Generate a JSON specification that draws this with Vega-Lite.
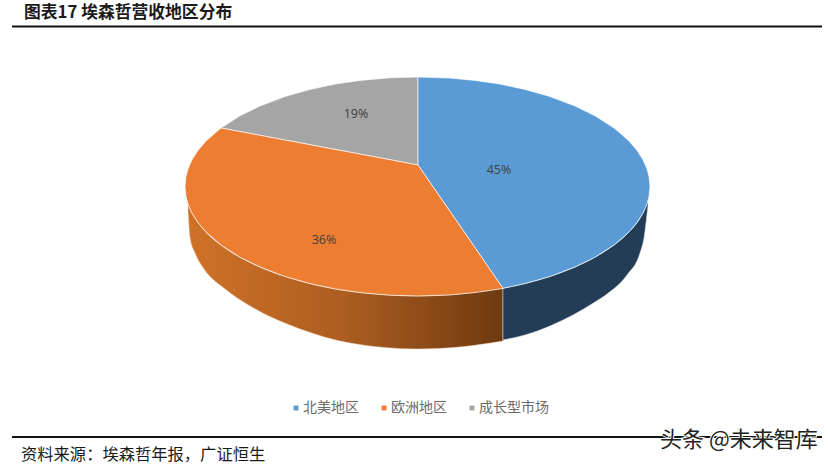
{"$schema":"https://vega.github.io/schema/vega-lite/v6.json","width":828,"height":464,"autosize":"none","padding":0,"background":"white","config":{"view":{"stroke":null}},
"datasets":{
"slices":[
{"region":"成长型市场","x":221,"y":128,"y2":128},{"region":"成长型市场","x":240,"y":115.8,"y2":131.6},{"region":"成长型市场","x":260,"y":106,"y2":135.3},{"region":"成长型市场","x":285,"y":96.5,"y2":140},{"region":"成长型市场","x":310,"y":89.4,"y2":144.7},{"region":"成长型市场","x":335,"y":84.1,"y2":149.4},{"region":"成长型市场","x":360,"y":80.4,"y2":154.1},{"region":"成长型市场","x":390,"y":77.8,"y2":159.7},{"region":"成长型市场","x":418,"y":77,"y2":165},
{"region":"北美地区","x":418,"y":77,"y2":165},{"region":"北美地区","x":450,"y":78.1,"y2":211.4},{"region":"北美地区","x":475,"y":80.4,"y2":247.7},{"region":"北美地区","x":500,"y":84.1,"y2":284},{"region":"北美地区","x":503,"y":84.7,"y2":288.3},{"region":"北美地区","x":525,"y":89.4,"y2":283.6},{"region":"北美地区","x":550,"y":96.5,"y2":276.5},{"region":"北美地区","x":575,"y":106,"y2":267},{"region":"北美地区","x":595,"y":115.8,"y2":257.2},{"region":"北美地区","x":615,"y":128.7,"y2":244.3},{"region":"北美地区","x":629,"y":141,"y2":232},{"region":"北美地区","x":637,"y":150.4,"y2":222.6},{"region":"北美地区","x":643,"y":159.8,"y2":213.2},{"region":"北美地区","x":647,"y":169,"y2":204},{"region":"北美地区","x":649,"y":176.4,"y2":196.6},{"region":"北美地区","x":650,"y":186.5,"y2":186.5},
{"region":"欧洲地区","x":185,"y":186.5,"y2":186.5},{"region":"欧洲地区","x":186,"y":176.4,"y2":196.6},{"region":"欧洲地区","x":188,"y":169,"y2":204},{"region":"欧洲地区","x":192,"y":159.8,"y2":213.2},{"region":"欧洲地区","x":198,"y":150.4,"y2":222.6},{"region":"欧洲地区","x":206,"y":141,"y2":232},{"region":"欧洲地区","x":221,"y":128,"y2":245},{"region":"欧洲地区","x":240,"y":131.6,"y2":257.2},{"region":"欧洲地区","x":260,"y":135.3,"y2":267},{"region":"欧洲地区","x":285,"y":140,"y2":276.5},{"region":"欧洲地区","x":310,"y":144.7,"y2":283.6},{"region":"欧洲地区","x":335,"y":149.4,"y2":288.9},{"region":"欧洲地区","x":360,"y":154.1,"y2":292.6},{"region":"欧洲地区","x":390,"y":159.7,"y2":295.2},{"region":"欧洲地区","x":418,"y":165,"y2":296},{"region":"欧洲地区","x":450,"y":211.4,"y2":294.9},{"region":"欧洲地区","x":475,"y":247.7,"y2":292.6},{"region":"欧洲地区","x":500,"y":284,"y2":288.9},{"region":"欧洲地区","x":503,"y":288.3,"y2":288.3}],
"sideBlue":[{"x":503,"y":288.3,"y2":340},{"x":525,"y":283.6,"y2":335},{"x":550,"y":276.5,"y2":326},{"x":573,"y":267.9,"y2":315},{"x":595,"y":257.2,"y2":302},{"x":607,"y":249.9,"y2":294},{"x":627,"y":234,"y2":275},{"x":640,"y":218.3,"y2":253},{"x":644,"y":211,"y2":238},{"x":648,"y":200.8,"y2":205}],
"sideOrange":[{"x":188,"y":204,"y2":210},{"x":190,"y":209,"y2":238},{"x":195,"y":218,"y2":253},{"x":204,"y":230,"y2":269},{"x":225,"y":248,"y2":289},{"x":250,"y":262.5,"y2":306},{"x":300,"y":281,"y2":329},{"x":350,"y":291.3,"y2":343},{"x":418,"y":296,"y2":349},{"x":460,"y":294,"y2":347},{"x":503,"y":288.3,"y2":341}],
"labels":[{"x":499,"y":170,"t":"45%"},{"x":324,"y":240,"t":"36%"},{"x":356,"y":114,"t":"19%"}],
"lines":[{"x":12,"x2":822,"y":26.5},{"x":12,"x2":822,"y":437}],
"title":[{"x":24,"y":13,"t":"图表17 埃森哲营收地区分布"}],
"source":[{"x":21,"y":455,"t":"资料来源：埃森哲年报，广证恒生"}],
"mark":[{"x":660,"y":440,"t":"头条 @未来智库"}]
},
"layer":[
{"data":{"name":"sideOrange"},"mark":{"type":"area","interpolate":"monotone","color":{"gradient":"linear","x1":0,"x2":1,"y1":0,"y2":0,"stops":[{"offset":0,"color":"#CF7228"},{"offset":0.5,"color":"#AC5D20"},{"offset":1,"color":"#6E3A10"}]},"stroke":"#F5D9C0","strokeWidth":0.5},"encoding":{"x":{"field":"x","type":"quantitative","scale":{"domain":[0,828],"nice":false,"zero":false},"axis":null},"y":{"field":"y","type":"quantitative","scale":{"domain":[464,0],"nice":false,"zero":false},"axis":null,"stack":null},"y2":{"field":"y2"}}},
{"data":{"name":"sideBlue"},"mark":{"type":"area","interpolate":"monotone","color":"#223D55","stroke":"#DDE6EE","strokeWidth":0.5},"encoding":{"x":{"field":"x","type":"quantitative"},"y":{"field":"y","type":"quantitative","stack":null},"y2":{"field":"y2"}}},
{"data":{"name":"slices"},"mark":{"type":"area","stroke":"#FFFFFF","strokeWidth":1,"strokeOpacity":0.65},"encoding":{"x":{"field":"x","type":"quantitative"},"y":{"field":"y","type":"quantitative","stack":null},"y2":{"field":"y2"},"color":{"field":"region","type":"nominal","scale":{"domain":["北美地区","欧洲地区","成长型市场"],"range":["#5B9BD5","#ED7D31","#A5A5A5"]},"legend":{"title":null,"orient":"none","legendX":289,"legendY":401,"direction":"horizontal","columns":3,"symbolType":"square","symbolSize":24,"symbolStrokeWidth":0,"labelFont":"Noto Sans CJK SC","labelFontSize":14,"labelColor":"#6B6B6B","labelOffset":0,"columnPadding":18}}}},
{"data":{"name":"labels"},"mark":{"type":"text","font":"Open Sans","fontSize":12.5,"color":"#404040","align":"center","baseline":"middle"},"encoding":{"x":{"field":"x","type":"quantitative"},"y":{"field":"y","type":"quantitative"},"text":{"field":"t"}}},
{"data":{"name":"lines"},"mark":{"type":"rule","color":"#111111","strokeWidth":2},"encoding":{"x":{"field":"x","type":"quantitative"},"x2":{"field":"x2"},"y":{"field":"y","type":"quantitative"}}},
{"data":{"name":"title"},"mark":{"type":"text","font":"Noto Sans CJK SC","fontWeight":"bold","fontSize":16.8,"color":"#1A1A1A","align":"left","baseline":"middle"},"encoding":{"x":{"field":"x","type":"quantitative"},"y":{"field":"y","type":"quantitative"},"text":{"field":"t"}}},
{"data":{"name":"source"},"mark":{"type":"text","font":"Noto Sans CJK SC","fontSize":16.3,"color":"#1A1A1A","align":"left","baseline":"middle"},"encoding":{"x":{"field":"x","type":"quantitative"},"y":{"field":"y","type":"quantitative"},"text":{"field":"t"}}},
{"data":{"name":"mark"},"mark":{"type":"text","font":"Noto Sans CJK SC","fontSize":22,"stroke":"#FFFFFF","strokeWidth":2,"color":"#FFFFFF","align":"left","baseline":"middle"},"encoding":{"x":{"field":"x","type":"quantitative"},"y":{"field":"y","type":"quantitative"},"text":{"field":"t"}}},
{"data":{"name":"mark"},"mark":{"type":"text","font":"Noto Sans CJK SC","fontSize":22,"color":"#222222","align":"left","baseline":"middle"},"encoding":{"x":{"field":"x","type":"quantitative"},"y":{"field":"y","type":"quantitative"},"text":{"field":"t"}}}
]}
